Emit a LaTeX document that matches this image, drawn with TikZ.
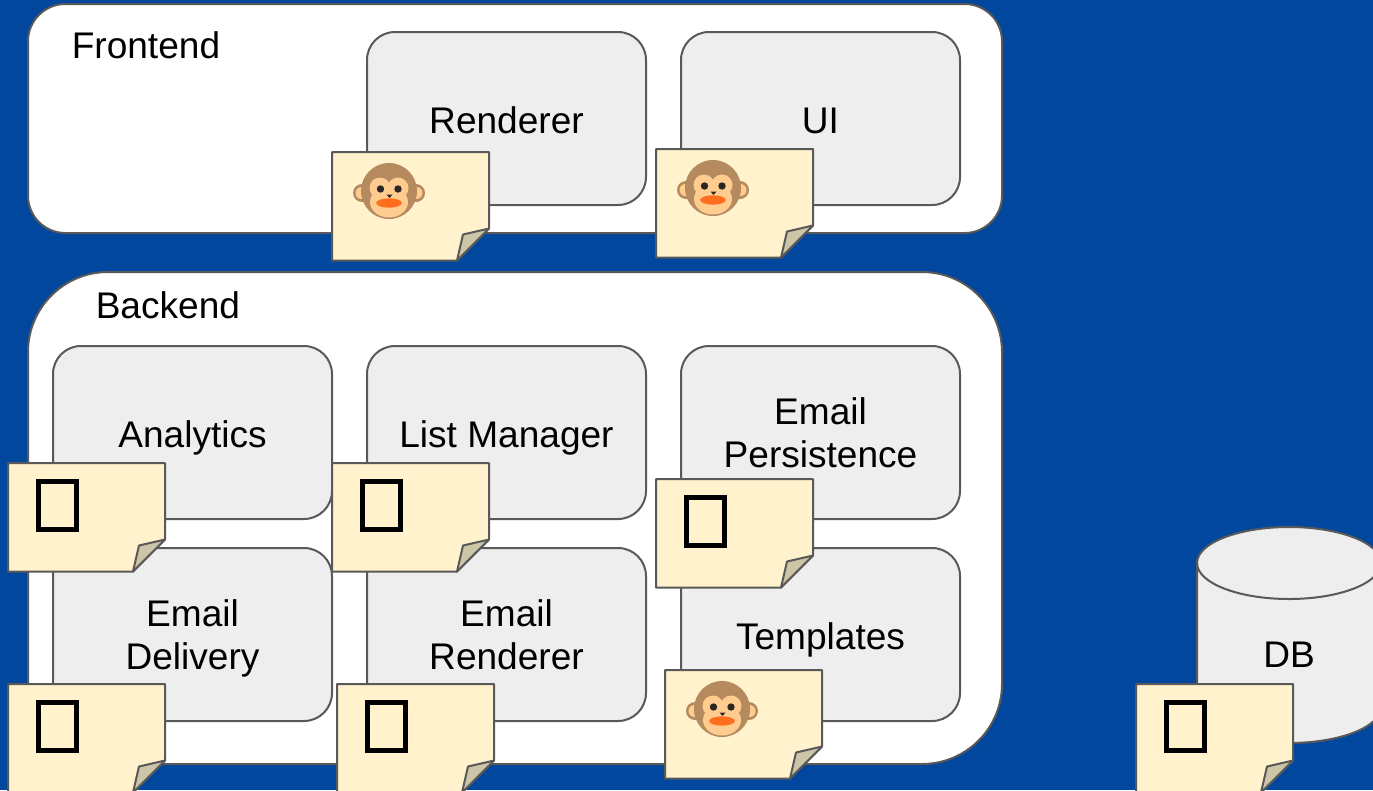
\documentclass[tikz,border=0pt]{standalone}
\usepackage{fontspec}
\setmainfont{Liberation Sans}
\definecolor{bgblue}{HTML}{00479D}
\definecolor{edge}{HTML}{595959}
\definecolor{boxfill}{HTML}{EEEEEE}
\definecolor{notefill}{HTML}{FFF2CC}
\definecolor{foldfill}{HTML}{CCC5A8}
\definecolor{ink}{HTML}{000000}
\definecolor{furdark}{HTML}{B58A5E}
\definecolor{furlight}{HTML}{FFCC8F}
\definecolor{mouthc}{HTML}{FF6D1F}
\definecolor{eyec}{HTML}{2B2523}
\tikzset{
  x=0.75pt,y=-0.75pt,
  outline/.style={draw=edge,line width=1.5pt,line join=round},
  panel/.style={outline,fill=white,rectangle,rounded corners=#1,anchor=north west,inner sep=0pt,outer sep=0pt},
  svc/.style={outline,fill=boxfill,rectangle,rounded corners=21pt,anchor=north west,inner sep=0pt,outer sep=0pt,
    minimum width=209.25pt,minimum height=129.75pt,align=center,font=\svcfont,text depth=0pt,
    execute at begin node={\rule{0pt}{21.8pt}}},
  lbl/.style={anchor=base west,inner sep=0pt,font=\svcfont,text=ink},
  notepaper/.style={outline,fill=notefill},
  notefold/.style={outline,fill=foldfill},
}
\newcommand{\svcfont}{\fontsize{27.8pt}{32.6pt}\selectfont}
\newcommand{\notebody}[3]{%
  \coordinate (#1) at (#2,#3);
  \begin{scope}[shift={(#1)}]
    \draw[notepaper] (0,0) -- (157,0) -- (157,76.5) -- (125,108.5) -- (0,108.5) -- cycle;
    \draw[notefold] (157,76.5) -- (131,82.5) -- (125,108.5) -- cycle;
  \end{scope}}
\newcommand{\monkeynote}[3]{%
  \notebody{#1}{#2}{#3}
  \begin{scope}[shift={(#1)}]
    \fill[furdark] (30,41) circle (9);
    \fill[furdark] (84,41) circle (9);
    \fill[furlight] (29.5,41) circle (6);
    \fill[furlight] (84.5,41) circle (6);
    \fill[furdark] (57,39) circle (28);
    \fill[furlight] (57,50) ellipse (19 and 15.5);
    \fill[furlight] (48,36) circle (10.5);
    \fill[furlight] (66,36) circle (10.5);
    \fill[eyec] (48.5,37) circle (3.7);
    \fill[eyec] (66,37) circle (3.7);
    \fill[eyec] (54.5,42.5) -- (60.5,42.5) -- (57.5,46) -- cycle;
    \fill[mouthc] (57,51) ellipse (12.8 and 4.7);
  \end{scope}}
\newcommand{\tofunote}[3]{%
  \notebody{#1}{#2}{#3}
  \begin{scope}[shift={(#1)}]
    \draw[ink,line width=3.4pt,miter limit=10] (30.5,18.5) rectangle (68.5,66.5);
  \end{scope}}
\begin{document}
\begin{tikzpicture}
\useasboundingbox (0,0) rectangle (1373,790);
\fill[bgblue] (0,0) rectangle (1373,790);
% panels
\node[panel=28pt,minimum width=730.5pt,minimum height=171.75pt] (frontend) at (28,4) {};
\node[panel=60pt,minimum width=730.5pt,minimum height=369pt] (backend) at (28,272) {};
\node[lbl] (frontendlabel) at (71.5,58) {Frontend};
\node[lbl] (backendlabel) at (95.5,318) {Backend};
% services
\node[svc] (renderer) at (367,32) {Renderer};
\node[svc] (ui) at (681,32) {UI};
\node[svc] (analytics) at (53,346) {Analytics};
\node[svc] (listmanager) at (367,346) {List Manager};
\node[svc] (persistence) at (681,346) {Email\\Persistence};
\node[svc] (delivery) at (53,548) {Email\\Delivery};
\node[svc] (emailrenderer) at (367,548) {Email\\Renderer};
\node[svc] (templates) at (681,548) {Templates};
% database
\draw[outline,fill=boxfill] (1197,563) -- (1197,707) arc[start angle=180,end angle=0,x radius=92,y radius=36]
  -- (1381,563) arc[start angle=0,end angle=-180,x radius=92,y radius=36] -- cycle;
\draw[outline] (1197,563) arc[start angle=180,end angle=0,x radius=92,y radius=36];
\node[font=\svcfont,text=ink,inner sep=0pt] (db) at (1289,655) {DB};
% notes
\monkeynote{noterenderer}{332}{152}
\monkeynote{noteui}{656}{149}
\tofunote{noteanalytics}{8}{463}
\tofunote{notelist}{332}{463}
\tofunote{notepersist}{656}{479}
\tofunote{notedelivery}{8}{684}
\tofunote{noteemail}{337}{684}
\monkeynote{notetemplates}{665}{670}
\tofunote{notedb}{1136}{684}
\end{tikzpicture}
\end{document}
